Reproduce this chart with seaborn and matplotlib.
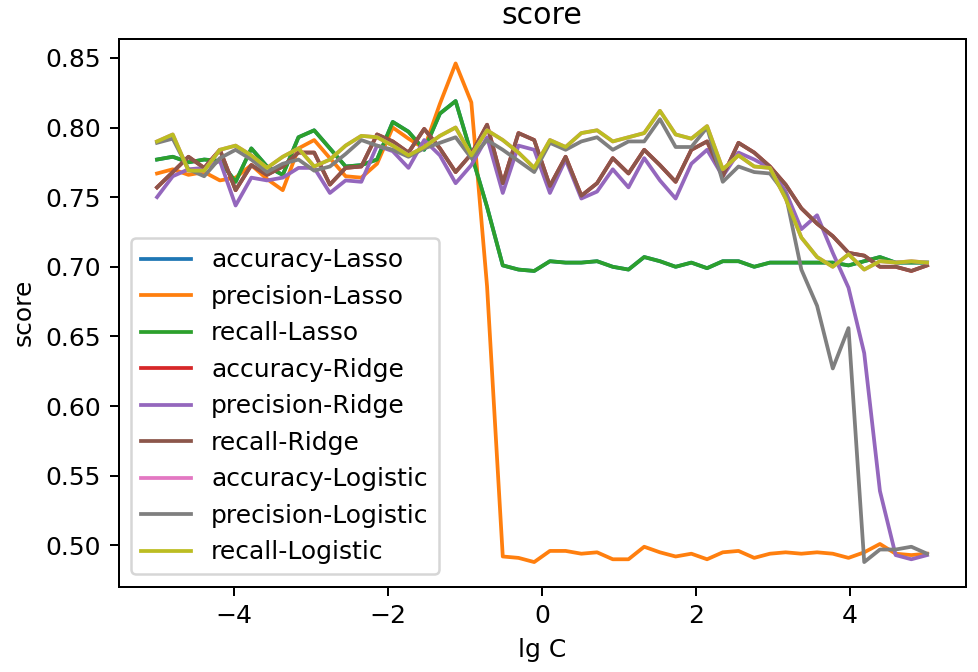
import numpy as np
import pandas as pd
import matplotlib
matplotlib.use("Agg")
import matplotlib.pyplot as plt
import seaborn as sns

# 50 values of lg C between -5 and 5
lg_c = np.linspace(-5, 5, 50)

precision_lasso = [0.767, 0.770, 0.766, 0.768, 0.762, 0.764, 0.773, 0.763, 0.755, 0.785,
                   0.791, 0.778, 0.765, 0.764, 0.774, 0.800, 0.792, 0.785, 0.817, 0.846,
                   0.818, 0.686, 0.492, 0.491, 0.488, 0.496, 0.496, 0.494, 0.495, 0.490,
                   0.490, 0.499, 0.495, 0.492, 0.494, 0.490, 0.495, 0.496, 0.491, 0.494,
                   0.495, 0.494, 0.495, 0.494, 0.491, 0.495, 0.501, 0.494, 0.493, 0.494]
recall_lasso = [0.777, 0.779, 0.775, 0.777, 0.776, 0.761, 0.785, 0.772, 0.766, 0.793,
                0.798, 0.785, 0.772, 0.773, 0.777, 0.804, 0.797, 0.784, 0.810, 0.819,
                0.781, 0.743, 0.701, 0.698, 0.697, 0.704, 0.703, 0.703, 0.704, 0.700,
                0.698, 0.707, 0.704, 0.700, 0.703, 0.699, 0.704, 0.704, 0.700, 0.703,
                0.703, 0.703, 0.703, 0.703, 0.701, 0.704, 0.707, 0.703, 0.703, 0.703]
accuracy_lasso = list(recall_lasso)

precision_ridge = [0.750, 0.765, 0.770, 0.771, 0.776, 0.744, 0.764, 0.762, 0.764, 0.771,
                   0.771, 0.753, 0.762, 0.761, 0.787, 0.783, 0.771, 0.791, 0.780, 0.760,
                   0.773, 0.793, 0.753, 0.787, 0.784, 0.753, 0.777, 0.749, 0.754, 0.770,
                   0.757, 0.778, 0.762, 0.749, 0.774, 0.784, 0.765, 0.782, 0.777, 0.771,
                   0.754, 0.727, 0.737, 0.710, 0.685, 0.638, 0.539, 0.493, 0.490, 0.493]
recall_ridge = [0.757, 0.768, 0.779, 0.771, 0.784, 0.755, 0.773, 0.766, 0.772, 0.782,
                0.782, 0.759, 0.771, 0.772, 0.795, 0.790, 0.782, 0.799, 0.785, 0.768,
                0.781, 0.802, 0.760, 0.796, 0.791, 0.758, 0.779, 0.751, 0.760, 0.778,
                0.767, 0.784, 0.773, 0.761, 0.784, 0.790, 0.765, 0.789, 0.782, 0.772,
                0.759, 0.742, 0.731, 0.722, 0.710, 0.708, 0.700, 0.700, 0.697, 0.701]
accuracy_ridge = list(recall_ridge)

precision_logistic = [0.789, 0.792, 0.770, 0.765, 0.778, 0.784, 0.777, 0.768, 0.774, 0.777,
                      0.769, 0.772, 0.781, 0.791, 0.787, 0.784, 0.779, 0.785, 0.789, 0.793,
                      0.778, 0.791, 0.784, 0.776, 0.768, 0.789, 0.784, 0.790, 0.793, 0.784,
                      0.790, 0.790, 0.806, 0.786, 0.786, 0.800, 0.761, 0.772, 0.768, 0.767,
                      0.752, 0.698, 0.672, 0.627, 0.656, 0.488, 0.497, 0.497, 0.499, 0.494]
recall_logistic = [0.790, 0.795, 0.769, 0.769, 0.784, 0.787, 0.780, 0.771, 0.779, 0.785,
                   0.772, 0.777, 0.787, 0.794, 0.793, 0.787, 0.780, 0.786, 0.794, 0.800,
                   0.780, 0.798, 0.791, 0.782, 0.771, 0.791, 0.786, 0.796, 0.798, 0.790,
                   0.793, 0.796, 0.812, 0.795, 0.792, 0.801, 0.770, 0.780, 0.772, 0.771,
                   0.749, 0.721, 0.707, 0.700, 0.709, 0.698, 0.704, 0.703, 0.704, 0.703]
accuracy_logistic = list(recall_logistic)

series = [
    ("accuracy-Lasso", accuracy_lasso),
    ("precision-Lasso", precision_lasso),
    ("recall-Lasso", recall_lasso),
    ("accuracy-Ridge", accuracy_ridge),
    ("precision-Ridge", precision_ridge),
    ("recall-Ridge", recall_ridge),
    ("accuracy-Logistic", accuracy_logistic),
    ("precision-Logistic", precision_logistic),
    ("recall-Logistic", recall_logistic),
]

fig = plt.figure(figsize=(978 / 180, 672 / 180), dpi=180)
ax = fig.add_axes([0.1212, 0.1265, 0.8661, 0.8162])
colors = sns.color_palette("tab10", len(series))

for (name, vals), col in zip(series, colors):
    sns.lineplot(x=lg_c, y=vals, label=name, color=col, ax=ax, linewidth=1.5)

ax.set_title("score")
ax.set_xlabel("lg C")
ax.set_ylabel("score")
ax.legend(loc="lower left")

fig.savefig("out.png", dpi=180)
